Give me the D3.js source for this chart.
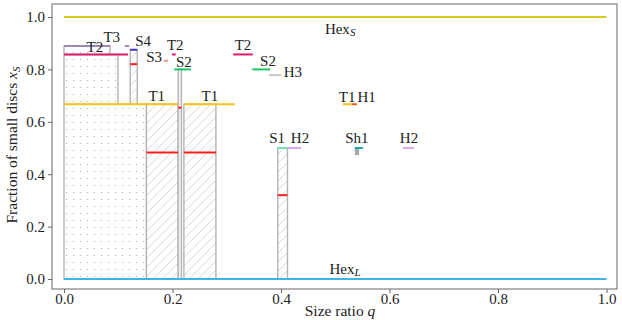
<!DOCTYPE html>
<html><head><meta charset="utf-8">
<script src="https://cdn.jsdelivr.net/npm/d3@7"></script>
<style>
html,body{margin:0;padding:0;background:#fff;}
text{font-family:"Liberation Serif","DejaVu Serif",serif;fill:#222;}
</style></head>
<body><svg id="chart" width="622" height="320"></svg>
<script>
// ---- data ----
const xTicks = [0, 0.2, 0.4, 0.6, 0.8, 1.0];
const yTicks = [0, 0.2, 0.4, 0.6, 0.8, 1.0];

// phase line segments
const segPhase = ["HexS","HexL","T3","T3","T2","T2","T2","S4","S3","S2","S2","H3","T1","T1","T1","H1","S1","H2","H2","Sh1"];
const segY  = [1, 0, 0.889, 0.889, 0.857, 0.857, 0.857, 0.875, 0.833, 0.8, 0.8, 0.778, 0.667, 0.667, 0.667, 0.667, 0.5, 0.5, 0.5, 0.5];
const segQ0 = [0, 0, 0, 0.112, 0, 0.199, 0.312, 0.122, 0.184, 0.203, 0.347, 0.378, 0, 0.221, 0.514, 0.530, 0.394, 0.412, 0.625, 0.536];
const segQ1 = [1, 1, 0.085, 0.120, 0.118, 0.206, 0.348, 0.135, 0.192, 0.234, 0.380, 0.401, 0.210, 0.315, 0.530, 0.540, 0.412, 0.437, 0.645, 0.551];

// coexistence regions
const regKind = ["dots","dots","dots","hatch","plain","hatch","hatch","hatch","solid"];
const regQ0 = [0, 0, 0, 0.152, 0.2105, 0.221, 0.122, 0.394, 0.536];
const regQ1 = [0.152, 0.0995, 0.085, 0.2105, 0.2165, 0.280, 0.135, 0.412, 0.544];
const regY0 = [0, 0.667, 0.857, 0, 0, 0, 0.667, 0, 0.473];
const regY1 = [0.667, 0.857, 0.889, 0.667, 0.8, 0.667, 0.875, 0.5, 0.5];

// red marks inside regions
const markQ0 = [0.152, 0.221, 0.2105, 0.122, 0.394];
const markQ1 = [0.2105, 0.280, 0.2165, 0.135, 0.412];
const markY  = [0.483, 0.483, 0.654, 0.82, 0.32];

// phase labels
const labText = ["T3","T2","S4","S3","T2","S2","T2","S2","H3","T1","T1","T1","H1","S1","H2","Sh1","H2","HexS","HexL"];
const labQ = [0.088, 0.057, 0.146, 0.166, 0.205, 0.221, 0.330, 0.376, 0.422, 0.171, 0.269, 0.522, 0.558, 0.393, 0.435, 0.540, 0.636, 0.509, 0.518];
const labY = [0.924, 0.885, 0.908, 0.847, 0.893, 0.828, 0.893, 0.832, 0.790, 0.698, 0.698, 0.695, 0.695, 0.538, 0.538, 0.538, 0.538, 0.954, 0.038];

// ---- styles ----
const phaseColor = {HexS:"#d6c81e", HexL:"#3ab6ea", T1:"#f6c21c", T2:"#e0176f", T3:"#9d86b8",
  S4:"#3b3bd6", S3:"#f39292", S2:"#22c46a", H3:"#c3cbc3", H1:"#e8601c", S1:"#66e8a8", H2:"#dfa8f0", Sh1:"#1ba8a8"};

const svg = d3.select("#chart");
const L = 52, R = 617, T = 4, B = 289;
const x = d3.scaleLinear().domain([0, 1]).range([64, 606.5]);
const y = d3.scaleLinear().domain([0, 1]).range([279, 17]);

const defs = svg.append("defs");
const pd = defs.append("pattern").attr("id","dots").attr("patternUnits","userSpaceOnUse")
  .attr("width",7).attr("height",7).attr("x",0).attr("y",0);
pd.append("rect").attr("width",7).attr("height",7).attr("fill","#fff");
pd.append("rect").attr("x",3).attr("y",3).attr("width",1).attr("height",1).attr("fill","#a8a8a8");
pd.append("rect").attr("x",2.5).attr("y",3.25).attr("width",2).attr("height",0.5).attr("fill","#cfcfcf");
const ph = defs.append("pattern").attr("id","hatch").attr("patternUnits","userSpaceOnUse")
  .attr("width",9).attr("height",9);
ph.append("rect").attr("width",9).attr("height",9).attr("fill","#fff");
ph.append("path").attr("d","M0,9L9,0M-2,2L2,-2M7,11L11,7").attr("stroke","#d2d2d2").attr("stroke-width",0.9);

const clip = defs.append("clipPath").attr("id","clip");
clip.append("rect").attr("x",L).attr("y",T).attr("width",R-L).attr("height",B-T);

const g = svg.append("g").attr("clip-path","url(#clip)");

// regions
regKind.forEach((k,i)=>{
  const r = g.append("rect")
    .attr("x", x(regQ0[i])).attr("width", x(regQ1[i]) - x(regQ0[i]))
    .attr("y", y(regY1[i])).attr("height", y(regY0[i]) - y(regY1[i]));
  if (k === "solid") r.attr("fill","#a8a8a8").attr("stroke","none");
  else r.attr("fill", k==="dots" ? "url(#dots)" : k==="hatch" ? "url(#hatch)" : "#f2f2f2")
        .attr("stroke","#b5b5b5").attr("stroke-width",1.4);
});

// segments
segPhase.forEach((p,i)=>{
  g.append("line")
    .attr("x1", x(segQ0[i])).attr("x2", x(segQ1[i]))
    .attr("y1", y(segY[i])).attr("y2", y(segY[i]))
    .attr("stroke", phaseColor[p]).attr("stroke-width", 2);
});

// red marks
markY.forEach((v,i)=>{
  g.append("line")
    .attr("x1", x(markQ0[i])).attr("x2", x(markQ1[i]))
    .attr("y1", y(v)).attr("y2", y(v))
    .attr("stroke", "#ff1e1e").attr("stroke-width", 2);
});

// labels
labText.forEach((t,i)=>{
  const tx = svg.append("text").attr("x", x(labQ[i])).attr("y", y(labY[i]))
    .attr("text-anchor","middle").attr("dominant-baseline","central")
    .attr("font-size", 15);
  if (t === "HexS" || t === "HexL") {
    tx.append("tspan").text("Hex");
    tx.append("tspan").text(t.slice(3)).attr("font-style","italic")
      .attr("font-size",11).attr("dy",3);
  } else tx.text(t);
});

// frame
svg.append("rect").attr("x",L).attr("y",T).attr("width",R-L).attr("height",B-T)
  .attr("fill","none").attr("stroke","#666").attr("stroke-width",1);

// axes
const xAxis = d3.axisBottom(x).tickValues(xTicks).tickFormat(d3.format(".1f")).tickSize(4).tickPadding(0);
const xa = svg.append("g").attr("transform",`translate(0,${B})`).call(xAxis);
const yAxis = d3.axisLeft(y).tickValues(yTicks).tickFormat(d3.format(".1f")).tickSize(4).tickPadding(3);
const ya = svg.append("g").attr("transform",`translate(${L},0)`).call(yAxis);
[xa, ya].forEach(a=>{
  a.select(".domain").remove();
  a.selectAll(".tick line").attr("stroke","#666");
  a.selectAll(".tick text").attr("font-family","Liberation Serif, serif").attr("font-size",15).attr("fill","#222");
});

// axis titles
const xt = svg.append("text").attr("x", 340).attr("y", 316).attr("text-anchor","middle").attr("font-size",15.5);
xt.append("tspan").text("Size ratio ");
xt.append("tspan").text("q").attr("font-style","italic");

const yt = svg.append("text").attr("transform","translate(17,145) rotate(-90)").attr("text-anchor","middle").attr("font-size",15.5);
yt.append("tspan").text("Fraction of small discs ");
yt.append("tspan").text("x").attr("font-style","italic");
yt.append("tspan").text("S").attr("font-style","italic").attr("font-size",11).attr("dy",3);
</script>
</body></html>
